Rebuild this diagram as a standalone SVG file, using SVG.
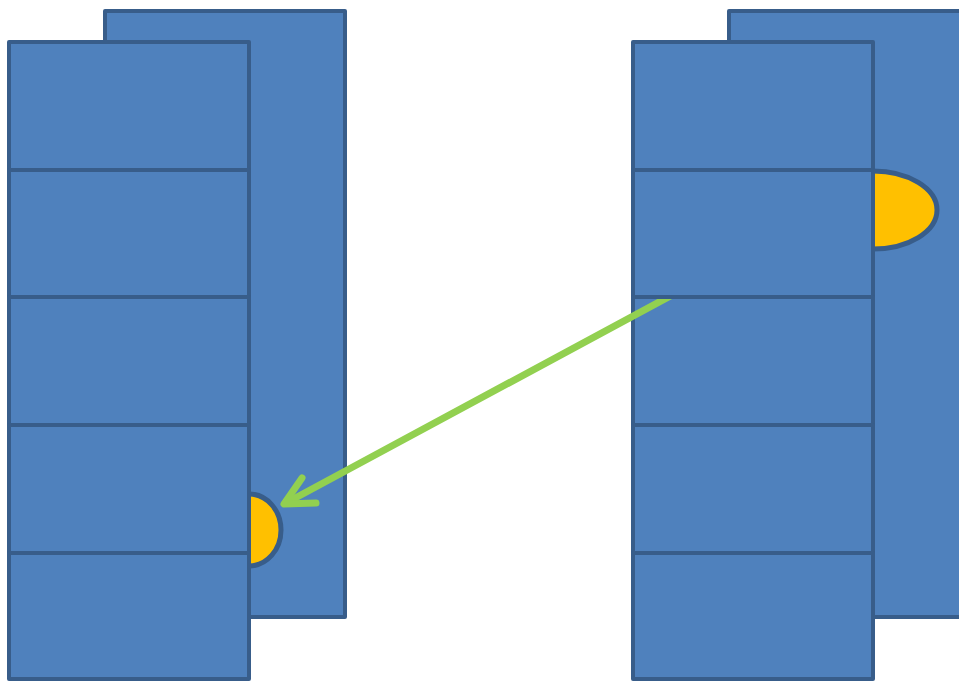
<svg xmlns="http://www.w3.org/2000/svg" width="959" height="681" viewBox="0 0 959 681">
<style>
.box{fill:#4F81BD;stroke:#385D8A;stroke-width:4;stroke-linejoin:round}
.half{fill:#FFC000;stroke:#385D8A;stroke-width:5}
.arr{fill:none;stroke:#92D050;stroke-width:7;stroke-linecap:round;stroke-linejoin:round}
</style>
<defs>
<clipPath id="c"><rect x="0" y="299" width="959" height="400"/></clipPath>
</defs>
<rect width="959" height="681" fill="#ffffff"/>
<g id="left-back"><rect class="box" x="105" y="11" width="240" height="606"/></g>
<g id="left-half"><ellipse class="half" cx="249" cy="530" rx="32" ry="36"/></g>
<g id="left-front">
<rect class="box" x="9" y="42" width="240" height="128"/>
<rect class="box" x="9" y="170" width="240" height="127"/>
<rect class="box" x="9" y="297" width="240" height="128"/>
<rect class="box" x="9" y="425" width="240" height="128"/>
<rect class="box" x="9" y="553" width="240" height="126"/>
</g>
<g id="right-back"><rect class="box" x="729" y="11" width="240" height="606"/></g>
<g id="right-half"><ellipse class="half" cx="873" cy="210" rx="64" ry="39"/></g>
<g id="right-front">
<rect class="box" x="633" y="42" width="240" height="128"/>
<rect class="box" x="633" y="170" width="240" height="127"/>
<rect class="box" x="633" y="297" width="240" height="128"/>
<rect class="box" x="633" y="425" width="240" height="128"/>
<rect class="box" x="633" y="553" width="240" height="126"/>
</g>
<g id="connectors">
<line class="arr" x1="674" y1="294" x2="286" y2="503" clip-path="url(#c)"/>
<polyline class="arr" points="302,478 284,504 316,503"/>
</g>
</svg>
